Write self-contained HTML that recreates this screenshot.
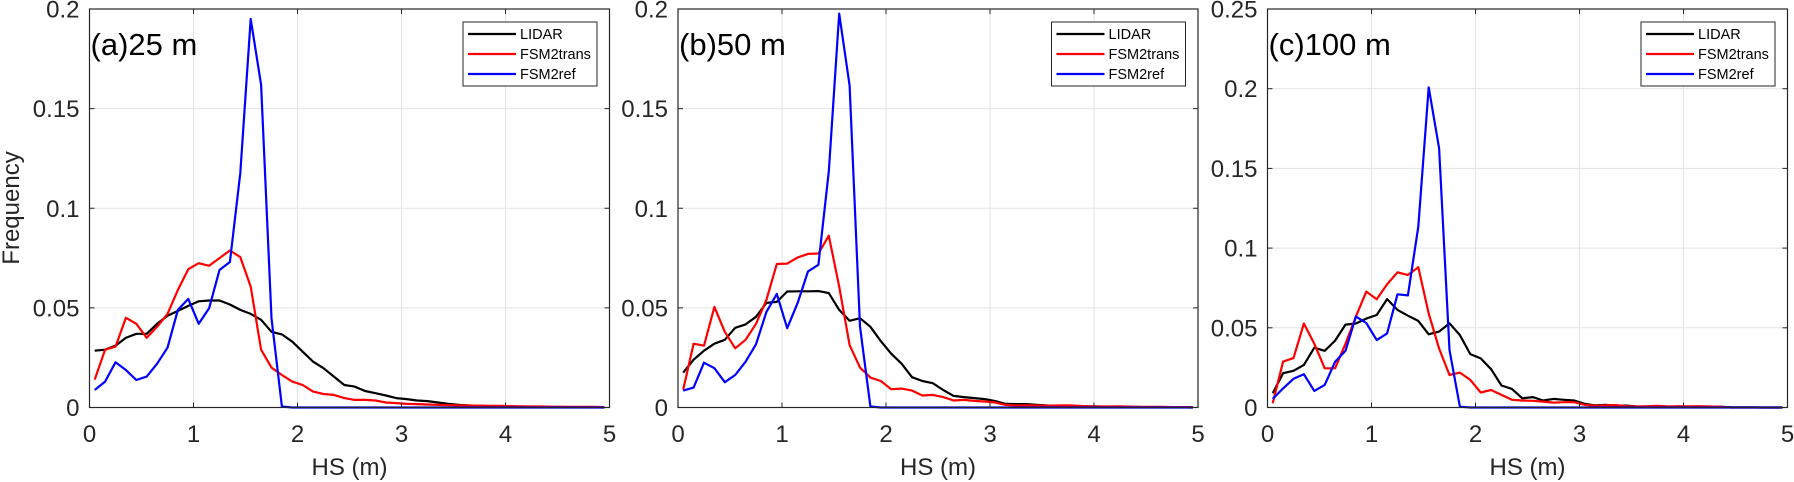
<!DOCTYPE html>
<html><head><meta charset="utf-8">
<style>
html,body{margin:0;padding:0;background:#fff;}
svg{display:block;font-family:"Liberation Sans",Arial,sans-serif;}
</style></head>
<body>
<svg id="chart" width="1794" height="482" viewBox="0 0 1794 482" xmlns="http://www.w3.org/2000/svg"></svg>
<script>
const binCenters = Array.from({length:50},(_,i)=>+(0.05+0.1*i).toFixed(2));
const xTicks = [0,1,2,3,4,5];
const yTicksAB = [0,0.05,0.1,0.15,0.2];
const yTickLabelsAB = ["0","0.05","0.1","0.15","0.2"];
const yTicksC = [0,0.05,0.1,0.15,0.2,0.25];
const yTickLabelsC = ["0","0.05","0.1","0.15","0.2","0.25"];
const panelTitles = ["(a)25 m","(b)50 m","(c)100 m"];
const seriesNames = ["LIDAR","FSM2trans","FSM2ref"];

const lidarA = [0.0285,0.029,0.031,0.035,0.037,0.037,0.042,0.046,0.0485,0.051,0.0533,0.0537,0.0537,0.0517,0.049,0.047,0.044,0.038,0.0367,0.033,0.028,0.023,0.0197,0.0155,0.0113,0.0105,0.0083,0.0072,0.006,0.0047,0.0042,0.0035,0.0032,0.0025,0.0018,0.0013,0.001,0.0008,0.0007,0.0006,0.0005,0.0004,0.0003,0.0003,0.0002,0.0002,0.0001,0.0001,0.0001,0];
const transA = [0.014,0.029,0.0305,0.045,0.042,0.035,0.0405,0.047,0.059,0.0694,0.0724,0.0711,0.075,0.0788,0.0755,0.0607,0.029,0.020,0.0163,0.013,0.0113,0.008,0.0068,0.0063,0.0047,0.0038,0.0038,0.0035,0.0025,0.0022,0.0018,0.0017,0.0015,0.0013,0.0012,0.001,0.001,0.0009,0.0008,0.0008,0.0007,0.0006,0.0005,0.0005,0.0004,0.0004,0.0003,0.0003,0.0003,0.0002];
const refA = [0.0088,0.013,0.0227,0.0188,0.0138,0.0155,0.022,0.030,0.049,0.0545,0.042,0.0498,0.069,0.073,0.1177,0.195,0.162,0.0448,0.0005,0,0,0,0,0,0,0,0,0,0,0,0,0,0,0,0,0,0,0,0,0,0,0,0,0,0,0,0,0,0,0];

const lidarB = [0.0175,0.024,0.0285,0.032,0.034,0.040,0.0417,0.0455,0.0525,0.053,0.0582,0.0583,0.0583,0.0584,0.0574,0.049,0.0435,0.0448,0.0405,0.0333,0.027,0.022,0.0152,0.0133,0.0122,0.0088,0.0058,0.0052,0.0047,0.0042,0.0032,0.0018,0.0017,0.0017,0.0013,0.001,0.0009,0.0008,0.0007,0.0006,0.0005,0.0004,0.0003,0.0003,0.0002,0.0002,0.0001,0.0001,0.0001,0];
const transB = [0.009,0.032,0.031,0.0505,0.038,0.0297,0.034,0.042,0.054,0.072,0.0722,0.0753,0.0771,0.0773,0.0862,0.0607,0.0313,0.020,0.015,0.0133,0.0092,0.0095,0.0085,0.006,0.0063,0.0052,0.0035,0.0038,0.0033,0.003,0.0025,0.0013,0.001,0.0011,0.001,0.0009,0.001,0.0011,0.0008,0.0006,0.0005,0.0005,0.0006,0.0004,0.0003,0.0003,0.0003,0.0002,0.0002,0.0002];
const refB = [0.0085,0.010,0.0225,0.0197,0.0127,0.0163,0.023,0.0317,0.048,0.057,0.0398,0.0524,0.0683,0.0716,0.1185,0.1977,0.1616,0.0406,0.0005,0,0,0,0,0,0,0,0,0,0,0,0,0,0,0,0,0,0,0,0,0,0,0,0,0,0,0,0,0,0,0];

const lidarC = [0.009,0.0215,0.023,0.0267,0.0375,0.0356,0.042,0.052,0.0527,0.0558,0.058,0.068,0.0612,0.0576,0.0543,0.0459,0.0476,0.0528,0.0454,0.0335,0.0308,0.024,0.0138,0.0117,0.0058,0.0065,0.0044,0.0054,0.0048,0.0044,0.0023,0.0013,0.0017,0.001,0.0012,0.0006,0.0005,0.0005,0.0004,0.0004,0.0003,0.0003,0.0003,0.0005,0.0002,0.0001,0.0001,0,0,0];
const transC = [0.0027,0.0288,0.031,0.0527,0.040,0.0246,0.0246,0.040,0.057,0.0727,0.0679,0.0773,0.0848,0.0831,0.088,0.059,0.037,0.0204,0.0219,0.0173,0.0094,0.011,0.0079,0.0048,0.0044,0.0042,0.0037,0.0031,0.0033,0.0033,0.0017,0.001,0.0013,0.0015,0.0008,0.0006,0.0008,0.001,0.0006,0.0008,0.0007,0.0008,0.0006,0.0005,0,0,0,0,0,0];
const refC = [0.0054,0.012,0.018,0.0208,0.0104,0.0142,0.0287,0.0356,0.057,0.053,0.0423,0.0465,0.071,0.0703,0.1134,0.2009,0.1626,0.036,0.0005,0,0,0,0,0,0,0,0,0,0,0,0,0,0,0,0,0,0,0,0,0,0,0,0,0,0,0,0,0,0,0];

const svg = document.getElementById('chart');
const NS = 'http://www.w3.org/2000/svg';
function mk(tag, attrs, parent){
  const e = document.createElementNS(NS, tag);
  for (const k in attrs) e.setAttribute(k, attrs[k]);
  (parent||svg).appendChild(e);
  return e;
}
const colors = ["#000000","#ff0000","#0000ff"];
const panels = [
  {x0:89.5, yMax:0.2, ticks:yTicksAB, labels:yTickLabelsAB, series:[lidarA,transA,refA], key:'a'},
  {x0:678, yMax:0.2, ticks:yTicksAB, labels:yTickLabelsAB, series:[lidarB,transB,refB], key:'b'},
  {x0:1267.5, yMax:0.25, ticks:yTicksC, labels:yTickLabelsC, series:[lidarC,transC,refC], key:'c'}
];
const W = 520, plotTop = 9, plotBottom = 407.5;

panels.forEach((p, pi) => {
  const g = mk('g', {});
  
  
  const xs = v => p.x0 + v / 5 * W;
  const ys = v => plotBottom - v / p.yMax * (plotBottom - plotTop);
  xTicks.forEach(t => { if (t>0 && t<5) mk('line',{x1:xs(t),x2:xs(t),y1:plotTop,y2:plotBottom,stroke:'#e3e3e3','stroke-width':1},g); });
  p.ticks.forEach(t => { if (t>0 && t<p.yMax) mk('line',{x1:p.x0,x2:p.x0+W,y1:ys(t),y2:ys(t),stroke:'#e3e3e3','stroke-width':1},g); });
  p.series.forEach((arr, si) => {
    const pts = arr.map((v,i)=>xs(binCenters[i]).toFixed(1)+','+ys(v).toFixed(1)).join(' ');
    const pl = mk('polyline',{points:pts,fill:'none',stroke:colors[si],'stroke-width':2.2,'stroke-linejoin':'round'},g);
    
    
  });
  mk('rect',{x:p.x0,y:plotTop,width:W,height:plotBottom-plotTop,fill:'none',stroke:'#262626','stroke-width':1.2},g);
  xTicks.forEach(t => {
    mk('line',{x1:xs(t),x2:xs(t),y1:plotBottom,y2:plotBottom-5,stroke:'#262626'},g);
    mk('line',{x1:xs(t),x2:xs(t),y1:plotTop,y2:plotTop+5,stroke:'#262626'},g);
    const tx = mk('text',{x:xs(t),y:442,'text-anchor':'middle','font-size':24,fill:'#262626'},g);
    tx.textContent = t;
    
    
  });
  p.ticks.forEach((t, ti) => {
    mk('line',{x1:p.x0,x2:p.x0+5,y1:ys(t),y2:ys(t),stroke:'#262626'},g);
    mk('line',{x1:p.x0+W,x2:p.x0+W-5,y1:ys(t),y2:ys(t),stroke:'#262626'},g);
    const tx = mk('text',{x:p.x0-10,y:ys(t)+8.5,'text-anchor':'end','font-size':24,fill:'#262626'},g);
    tx.textContent = p.labels[ti];
    
    
  });
  const xl = mk('text',{x:p.x0+W/2,y:475,'text-anchor':'middle','font-size':24,fill:'#262626'},g);
  xl.textContent = 'HS (m)';
  
  
  const tt = mk('text',{x:p.x0+1,y:55,'font-size':31,fill:'#000'},g);
  tt.textContent = panelTitles[pi];
  
  
  const lg = mk('g',{},g);
  
  
  const lx = p.x0 + 373.5;
  mk('rect',{x:lx,y:22,width:134,height:64,fill:'#fff',stroke:'#262626','stroke-width':1},lg);
  seriesNames.forEach((n, si) => {
    const yy = 34 + si*20;
    mk('line',{x1:lx+5,x2:lx+53,y1:yy,y2:yy,stroke:colors[si],'stroke-width':2.2},lg);
    const t = mk('text',{x:lx+57,y:yy+5,'font-size':14.5,fill:'#000'},lg);
    t.textContent = n;
    
    
  });
});
const yl = mk('text',{x:0,y:0,'text-anchor':'middle','font-size':24,fill:'#262626',transform:'translate(19,208) rotate(-90)'});
yl.textContent = 'Frequency';


</script>
</body></html>
